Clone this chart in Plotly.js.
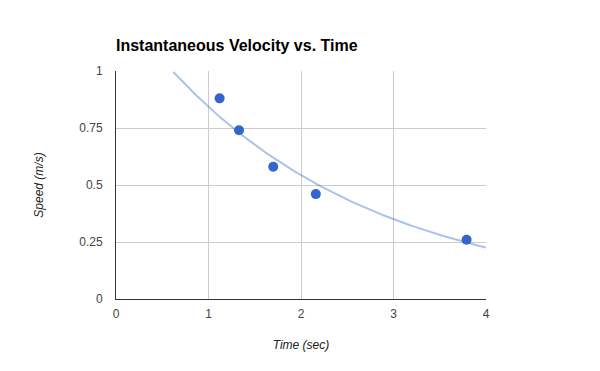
<!DOCTYPE html>
<html><head><meta charset="utf-8">
<script src="https://cdn.plot.ly/plotly-3.0.1.min.js"></script>
<style>html,body{margin:0;padding:0;background:#fff}#chart{width:600px;height:371px}</style>
</head><body><div id="chart"></div>
<script>
var timeSec = [1.12, 1.33, 1.70, 2.16, 3.79];
var speed = [0.88, 0.74, 0.58, 0.46, 0.26];
var xTicks = [0, 1, 2, 3, 4];
var yTicks = [0, 0.25, 0.5, 0.75, 1];
var yTickLabels = ['0', '0.25', '0.5', '0.75', '1'];

// exponential trendline fitted to the data (least squares on ln y)
var n = timeSec.length, mx = 0, my = 0;
for (var i = 0; i < n; i++) { mx += timeSec[i]; my += Math.log(speed[i]); }
mx /= n; my /= n;
var sxy = 0, sxx = 0;
for (var i = 0; i < n; i++) { var dx = timeSec[i] - mx; sxy += dx * (Math.log(speed[i]) - my); sxx += dx * dx; }
var b = sxy / sxx, a = Math.exp(my - b * mx);
var tx = [], ty = [];
for (var k = 0; k <= 400; k++) { var x = k * 4 / 400; var y = a * Math.exp(b * x); if (y <= 1.0) { tx.push(x); ty.push(y); } }

var traces = [
  {x: tx, y: ty, mode: 'lines', type: 'scatter', line: {color: 'rgba(51,102,204,0.4)', width: 2}, hoverinfo: 'skip'},
  {x: timeSec, y: speed, mode: 'markers', type: 'scatter', marker: {color: '#3366cc', size: 10}}
];
var layout = {
  width: 600, height: 371,
  margin: {l: 116, r: 114, t: 71, b: 72},
  paper_bgcolor: '#fff', plot_bgcolor: '#fff',
  showlegend: false,
  font: {family: 'Liberation Sans, Arial, sans-serif', size: 12, color: '#444'},
  title: {text: '<b>Instantaneous Velocity vs. Time</b>', x: 116/600, xanchor: 'left', y: 1 - 45/371, yanchor: 'middle',
          font: {size: 16, color: '#000', family: 'Liberation Sans, Arial, sans-serif'}},
  xaxis: {range: [0, 4], tickvals: xTicks, ticktext: xTicks.map(String), showgrid: true, gridcolor: '#cccccc', gridwidth: 1,
          zeroline: false, showline: true, linecolor: '#333', linewidth: 1, ticks: 'outside', ticklen: 4, tickcolor: 'rgba(0,0,0,0)',
          tickfont: {size: 12, color: '#444'}, fixedrange: true,
          title: {text: '<i>Time (sec)</i>', font: {size: 12, color: '#222'}, standoff: 20}},
  yaxis: {range: [0, 1], tickvals: yTicks, ticktext: yTickLabels, showgrid: true, gridcolor: '#cccccc', gridwidth: 1,
          zeroline: false, showline: true, linecolor: '#333', linewidth: 1, ticks: 'outside', ticklen: 10, tickcolor: 'rgba(0,0,0,0)',
          tickfont: {size: 12, color: '#444'}, fixedrange: true,
          title: {text: '<i>Speed (m/s)</i>', font: {size: 12, color: '#222'}, standoff: 33}}
};
Plotly.newPlot('chart', traces, layout, {displayModeBar: false, staticPlot: true});
</script></body></html>
